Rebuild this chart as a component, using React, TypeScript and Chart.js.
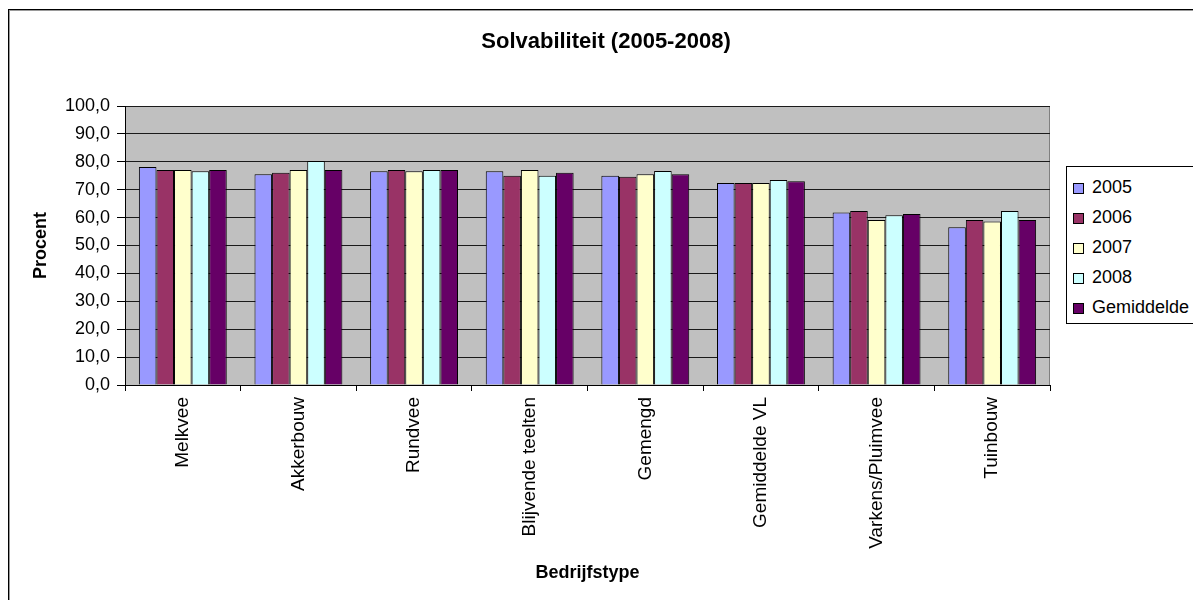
import React, { useEffect, useRef } from "react";
import { Chart, registerables } from "chart.js";

Chart.register(...registerables);

const categories = [
  "Melkvee",
  "Akkerbouw",
  "Rundvee",
  "Blijvende teelten",
  "Gemengd",
  "Gemiddelde VL",
  "Varkens/Pluimvee",
  "Tuinbouw",
];

const seriesNames = ["2005", "2006", "2007", "2008", "Gemiddelde"];
const seriesColors = ["#9999ff", "#993366", "#ffffcc", "#ccffff", "#660066"];

const values2005 = [78.1, 75.5, 76.6, 76.6, 75.0, 72.4, 61.8, 56.5];
const values2006 = [77.1, 76.1, 77.1, 75.0, 74.6, 72.4, 62.4, 59.1];
const values2007 = [77.1, 77.1, 76.6, 77.1, 75.5, 72.4, 59.1, 58.6];
const values2008 = [76.6, 80.3, 77.1, 75.0, 76.7, 73.5, 60.8, 62.4];
const valuesGemiddelde = [77.1, 77.1, 77.1, 76.1, 75.5, 73.0, 61.3, 59.1];

const seriesValues = [values2005, values2006, values2007, values2008, valuesGemiddelde];

const chartTitle = "Solvabiliteit (2005-2008)";
const xTitle = "Bedrijfstype";
const yTitle = "Procent";

const FONT = "'Liberation Sans', Arial, Helvetica, sans-serif";

const plotBackground = {
  id: "plotBackground",
  beforeDraw(chart: any) {
    const { ctx, chartArea } = chart;
    if (!chartArea) return;
    const { left, top, right, bottom } = chartArea;
    ctx.save();
    ctx.fillStyle = "#c0c0c0";
    ctx.fillRect(left, top, right - left, bottom - top);
    ctx.strokeStyle = "#808080";
    ctx.lineWidth = 1;
    ctx.beginPath();
    const x = Math.round(right) - 0.5;
    ctx.moveTo(x, top);
    ctx.lineTo(x, bottom);
    ctx.stroke();
    ctx.restore();
  },
};

export default function App() {
  const canvasRef = useRef<HTMLCanvasElement | null>(null);

  useEffect(() => {
    if (!canvasRef.current) return;
    const chart = new Chart(canvasRef.current, {
      type: "bar",
      data: {
        labels: categories,
        datasets: seriesNames.map((name, i) => ({
          label: name,
          data: seriesValues[i],
          backgroundColor: seriesColors[i],
          borderColor: "#000000",
          borderWidth: 1,
          categoryPercentage: 0.76,
          barPercentage: 1.0,
        })),
      },
      options: {
        responsive: false,
        animation: false,
        devicePixelRatio: 1,
        layout: { padding: { left: 26, right: 143, top: 106, bottom: 12 } },
        plugins: {
          legend: { display: false },
          title: { display: false },
          tooltip: { enabled: false },
        },
        scales: {
          x: {
            afterFit(scale: any) {
              scale.height = 203;
            },
            grid: {
              offset: true,
              drawOnChartArea: false,
              drawTicks: true,
              tickLength: 6,
              color: "#000000",
              tickColor: "#000000",
            },
            border: { display: true, color: "#000000", width: 1 },
            ticks: {
              minRotation: 90,
              maxRotation: 90,
              autoSkip: false,
              padding: 6,
              color: "#000000",
              font: { family: FONT, size: 19 },
            },
            title: {
              display: true,
              text: xTitle,
              color: "#000000",
              padding: { top: 4, bottom: 4 },
              font: { family: FONT, size: 18, weight: "bold" },
            },
          },
          y: {
            min: 0,
            max: 100,
            afterFit(scale: any) {
              scale.width = 99;
            },
            grid: {
              color: "#1a1a1a",
              tickColor: "#000000",
              tickLength: 8,
              drawTicks: true,
            },
            border: { display: true, color: "#000000", width: 1 },
            ticks: {
              stepSize: 10,
              padding: 7,
              color: "#000000",
              font: { family: FONT, size: 18 },
              callback: (v: any) => Number(v).toFixed(1).replace(".", ","),
            },
            title: {
              display: true,
              text: yTitle,
              color: "#000000",
              padding: { top: 4, bottom: 4 },
              font: { family: FONT, size: 18, weight: "bold" },
            },
          },
        },
      },
      plugins: [plotBackground],
    });
    return () => chart.destroy();
  }, []);

  return (
    <div
      style={{
        position: "fixed",
        left: 0,
        top: 0,
        width: 1193,
        height: 600,
        overflow: "hidden",
        background: "#ffffff",
        fontFamily: FONT,
      }}
    >
      <div
        style={{
          position: "absolute",
          left: 8,
          top: 9,
          width: 1200,
          height: 620,
          borderLeft: "1px solid #000",
          borderTop: "1px solid #000",
          boxShadow: "inset 1px 1px 0 #9a9a9a",
          boxSizing: "border-box",
        }}
      />
      <canvas
        ref={canvasRef}
        width={1193}
        height={600}
        style={{ position: "absolute", left: 0, top: 0, width: 1193, height: 600 }}
      />
      <div
        style={{
          position: "absolute",
          left: 406,
          width: 400,
          top: 27,
          lineHeight: "27px",
          fontSize: 22,
          fontWeight: "bold",
          textAlign: "center",
          color: "#000",
          whiteSpace: "nowrap",
        }}
      >
        {chartTitle}
      </div>
      <div
        style={{
          position: "absolute",
          left: 1066,
          top: 166,
          width: 140,
          height: 158,
          border: "1px solid #000",
          boxSizing: "border-box",
          background: "#fff",
        }}
      >
        {seriesNames.map((name, i) => (
          <div
            key={name}
            style={{
              position: "absolute",
              left: 6,
              top: 7 + i * 30,
              height: 26,
              display: "flex",
              alignItems: "center",
              whiteSpace: "nowrap",
            }}
          >
            <span
              style={{
                display: "inline-block",
                width: 9,
                height: 9,
                border: "1px solid #000",
                background: seriesColors[i],
                marginRight: 8,
                marginTop: 2,
              }}
            />
            <span style={{ fontSize: 18, lineHeight: "26px", color: "#000" }}>{name}</span>
          </div>
        ))}
      </div>
    </div>
  );
}
